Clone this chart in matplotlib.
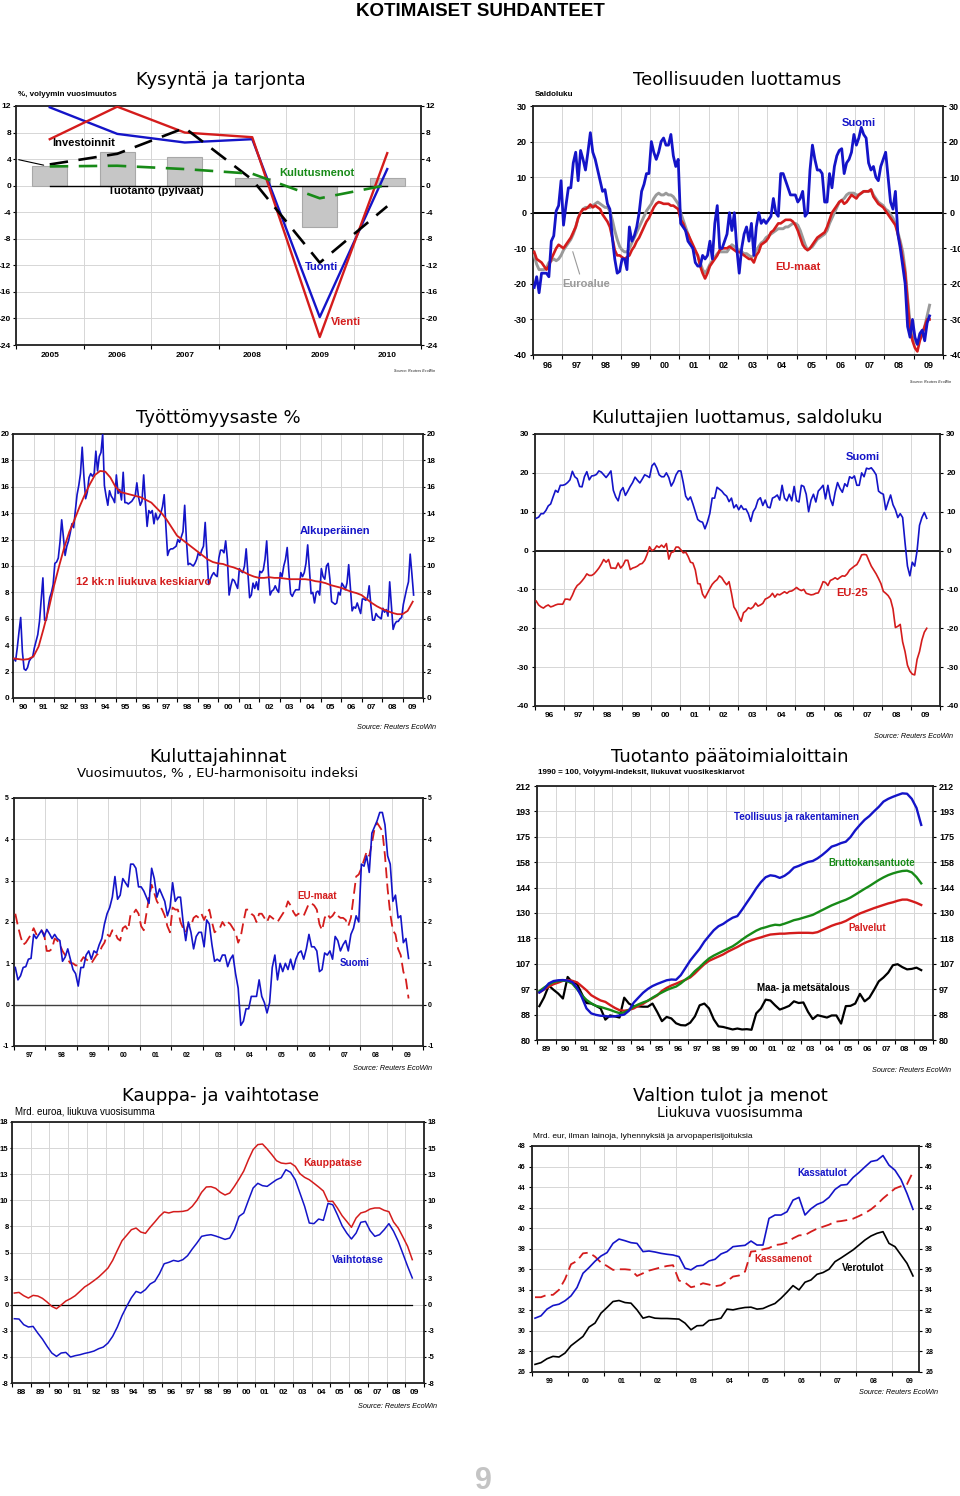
import numpy as np
import matplotlib
matplotlib.use('Agg')
import matplotlib.pyplot as plt
from matplotlib.ticker import FixedLocator, FixedFormatter, NullFormatter, NullLocator

plt.rcParams['font.family'] = ['Liberation Sans', 'DejaVu Sans']
plt.rcParams['font.weight'] = 'bold'

W, H = 960, 1496
BLUE = '#1414c8'
RED = '#d41c1c'
GREEN = '#178a17'
GRAY = '#9a9a9a'
GRID = '#d6d6d6'

# ---------------- data ----------------
# Kysyntä ja tarjonta
p1_years = [2005, 2006, 2007, 2008, 2009, 2010]
p1_tuotanto = [2.9, 5.0, 4.3, 1.2, -6.3, 1.1]
p1_investoinnit = [3.2, 4.8, 8.7, 0.9, -11.6, -3.1]
p1_vienti = [7.0, 11.9, 8.0, 7.3, -22.8, 4.9]
p1_tuonti = [11.8, 7.8, 6.5, 7.0, -19.8, 2.5]
p1_kulutus = [2.9, 3.0, 2.5, 1.8, -1.9, 0.1]

# Teollisuuden luottamus, monthly 1996-01 .. 2009-07
p2_suomi = [
    -21, -18, -22.5, -17, -17, -17, -18, -8, -6.5, 0.5, 2, 9,
    -3.5, 2, 7, 7, 14, 17, 9, 17.5, 15, 12, 17, 22.5,
    17, 15, 12, 9, 6, 6.5, 2.5, 1, -7, -13, -17, -16.5,
    -13, -13, -16, -4, -8, -6.5, -4, 0, 6, 8, 11, 11,
    20, 17, 15, 17, 20, 21, 19, 19, 22, 16, 13, 15,
    -3, -4, -5, -8, -9, -10, -14, -15, -15, -12, -13, -12,
    -8, -13, -3, 2, -10, -10, -8, -6, 0, -5, 0, -10,
    -17, -10, -6, -4, -8, -3, -12, -4, 0, -3, -2, -3,
    -2, -1, 4, 0, -1, 11, 11, 9, 7, 5, 5, 5,
    3, 4, 6, -1, 0, 12, 19, 15, 12, 12, 11, 3,
    3, 11, 7, 13, 16, 17.5, 18, 11, 14, 15, 17, 22,
    19, 21, 24, 22, 21, 14, 12, 13, 10, 9, 13, 15,
    17, 10, 3, 1, 6, -6, -10, -15, -20, -32, -35, -30,
    -35, -37, -34, -33, -36, -31, -29]
p2_eu = [
    -11, -13, -13.5, -14, -15, -16, -15, -13, -11.5, -10, -9, -9.5,
    -10, -9, -8, -7, -5.5, -4, -1.5, 0, 1, 1, 1.5, 2.3,
    1.5, 2, 1.5, 1, -0.5, -1.5, -2.5, -4, -7, -10.5, -12, -12,
    -12.5, -13, -12.5, -12, -10.5, -9.5, -8, -7, -5.5, -4, -2.5, -1.5,
    0, 1.5, 2.5, 3, 2.8, 2.5, 2.5, 2.5, 2, 2, 1.5, 1,
    -2, -3, -5, -6, -7.5, -9, -10.5, -12, -15, -17, -18.5, -17,
    -15, -14, -13, -12, -10.5, -10, -10, -10, -9.5, -10, -10.5, -11,
    -11, -11.5, -12, -12.5, -13, -13, -14, -12, -11, -9, -8.5, -8,
    -7, -5.5, -5, -4, -3, -3, -2.5, -2, -2, -2, -2.5, -3.5,
    -5, -7, -9, -10, -10.5, -10, -9, -8, -7, -6.5, -6, -5.5,
    -4, -2, 0, 1, 2, 3, 3.5, 2.5, 3, 4, 5, 4.5,
    4, 5, 5.5, 6, 6, 6, 6.5, 4.5, 3.5, 2.5, 2, 1.5,
    0.5, -0.5, -1.5, -2.5, -3.5, -6, -9, -13, -17, -25, -33, -36,
    -38, -39, -36, -34, -32, -30, -30]
p2_euro = [
    -12, -14.5, -16, -16, -16, -15.5, -14, -13.5, -13, -13.5, -13, -12,
    -10.5, -9.5, -8.5, -7.5, -6, -4, -1.5, 0, 1, 1.5, 1.5, 1.5,
    2, 2.5, 3, 2.5, 2, 1.5, 1.5, 0.5, -2, -5, -7.5, -9.5,
    -10.5, -11, -11, -10, -8.5, -7, -5.5, -4, -2.5, -1, 0.5, 1.5,
    2.5, 4, 5, 5.5, 5, 5, 5.5, 5, 5, 4.5, 3.5, 2.5,
    0, -2, -4, -6, -8, -10, -11, -12, -14, -16, -17, -16,
    -14.5, -13.5, -12.5, -11.5, -11, -11, -11, -11, -10, -9, -9.5, -10,
    -10.5, -11, -11.5, -11.5, -12, -12.5, -12, -10.5, -9.5, -8.5, -8, -7,
    -6.5, -6, -5.5, -5, -4.5, -4.5, -4.5, -4, -4, -3.5, -3, -3,
    -3.5, -5, -7, -9, -10.5, -10, -9.5, -8.5, -7.5, -7, -6.5, -6,
    -5, -3, -1.5, 0, 1.5, 3, 3.5, 4, 5, 5.5, 5.5, 5.5,
    5, 5, 5.5, 6, 6, 6, 6.5, 5, 4, 3, 2.5, 2,
    1, 0.5, -0.5, -1.5, -3, -5.5, -8, -11, -16, -24, -31, -35,
    -36, -37, -35.5, -34, -32, -29, -26]

# Työttömyysaste, monthly 1990-01 .. 2009-07
p3_alkup = [
    3.0, 2.8, 3.8, 5.0, 6.1, 3.5, 2.2, 2.1, 2.3, 2.8, 3.0, 3.1,
    3.8, 4.3, 4.8, 5.8, 7.5, 9.1, 5.9, 5.9, 6.8, 7.6, 8.0, 8.6,
    10.2, 10.3, 10.6, 11.8, 13.5, 12.2, 10.8, 11.5, 11.9, 12.5, 13.2, 12.9,
    14.2, 15.4, 16.1, 17.0, 19.0, 16.8, 15.1, 15.6, 16.7, 17.0, 16.8, 17.0,
    18.7, 17.2, 18.3, 18.6, 20.0, 16.1, 15.3, 14.6, 15.7, 15.3, 15.1, 14.8,
    16.9, 15.5, 15.8, 15.0, 17.1, 14.8, 14.8, 14.7, 14.8, 14.9, 15.1, 15.3,
    16.3, 15.2, 14.6, 14.9, 16.9, 14.8, 13.0, 14.2, 14.0, 14.2, 13.2, 14.0,
    13.5, 13.7, 14.0, 14.5, 15.4, 13.0, 10.8, 11.2, 11.3, 11.3, 11.4, 11.5,
    12.0, 11.8, 12.2, 12.6, 14.6, 12.0, 10.1, 10.2, 10.1, 10.0, 10.2, 10.5,
    11.0, 10.8, 11.2, 11.5, 13.3, 11.0, 8.6, 9.0, 9.3, 9.5, 9.3, 9.2,
    10.6, 11.2, 11.2, 11.0, 11.9, 10.5, 7.8, 8.5, 9.0, 8.9, 8.6, 8.3,
    9.8, 9.6, 9.5, 10.0, 11.3, 9.5, 7.6, 7.8, 8.7, 8.3, 8.8, 8.2,
    9.6, 9.5, 9.7, 10.5, 11.9, 9.5, 7.8, 8.1, 8.2, 8.5, 8.2, 8.0,
    9.5, 9.2, 10.0, 10.5, 11.4, 9.5, 7.9, 7.7, 8.0, 8.2, 8.2, 8.2,
    9.5, 9.2, 9.5, 10.2, 11.6, 9.7, 7.9, 8.0, 7.2, 8.0, 8.1, 7.8,
    9.8, 9.2, 9.0, 10.0, 10.2, 9.0, 7.3, 7.2, 7.1, 7.2, 8.0, 7.8,
    8.7, 8.5, 8.2, 8.7, 10.1, 8.3, 6.6, 6.9, 6.8, 7.2, 6.8, 6.4,
    7.5, 7.5, 7.4, 7.6, 8.5, 7.0, 5.9, 5.9, 6.4, 6.2, 6.1, 6.0,
    6.8, 6.5, 6.7, 6.2, 8.8, 7.0, 5.2, 5.6, 5.8, 5.8, 6.0, 6.1,
    7.1, 7.7, 8.3, 8.8, 10.9, 9.4, 7.8]
# 12 kk liukuva keskiarvo, quarterly 1990.0 .. 2009.5
p3_ka = [
    3.0, 2.95, 2.9, 2.95, 3.15, 3.9, 5.3, 6.8, 8.5, 10.0,
    11.4, 12.6, 13.5, 14.5, 15.4, 16.2, 16.9, 17.2, 17.15, 16.7,
    16.0, 15.6, 15.5, 15.4, 15.3, 15.2, 15.0, 14.8, 14.4, 14.0,
    13.5, 12.9, 12.3, 12.0, 11.7, 11.4, 11.1, 10.8, 10.5, 10.3,
    10.2, 10.15, 10.0, 9.9, 9.75, 9.55, 9.35, 9.2, 9.1, 9.1,
    9.15, 9.1, 9.1, 9.05, 9.0, 9.0, 9.0, 9.0, 8.95, 8.85,
    8.8, 8.7, 8.55, 8.45, 8.35, 8.2, 8.05, 7.95, 7.8, 7.5,
    7.2, 6.95, 6.75, 6.6, 6.45, 6.35, 6.35, 6.6, 7.3]

# Kuluttajien luottamus, monthly 1996-01 .. 2009-07
p4_suomi = [
    8.3, 8.6, 9.5, 9.5, 10.3, 11.5, 12, 13.8, 15.5, 15, 16.8, 16.8,
    17, 17.5, 18.2, 20.4, 19, 18.5, 16.5, 16.4, 19, 20.3, 18.2, 19.2,
    19.3, 19.6, 20.5, 20.2, 19.5, 18.8, 19.6, 20.5, 15.5, 13.8, 12.8, 15.3,
    16.2, 14.2, 15.3, 16.5, 17.5, 18.9, 18.1, 17.4, 18.4, 19.5, 19.2, 18.8,
    21.8, 22.5, 21.3, 19.5, 19, 19, 20, 18.8, 16.6, 17.7, 19.5, 20.5,
    20.5, 17.5, 14, 13, 13.8, 12, 10, 8, 7.5, 7.3, 5.6, 7.3,
    9.5, 13.5, 13.5, 16.3, 15.8, 15.3, 14.5, 14, 12.6, 13.5, 11, 11.8,
    10.5, 11.6, 10.6, 10.7, 9.5, 7.5, 10, 11, 13, 13.6, 11.6, 13,
    11.2, 11, 13.5, 13.8, 14.3, 13, 16.8, 13.5, 12.8, 14.5, 12.8, 16.5,
    12.8, 12.5, 16.8, 16.5, 14.5, 10, 13, 14.5, 12.5, 15.3, 16, 16.8,
    13.3, 16.8, 13.3, 11.6, 15, 17.5, 16, 15, 17.2, 16.5, 19, 18.6,
    19.2, 16.8, 16.8, 20, 19, 21.2, 21, 21.3, 20.5, 19.5, 15.3, 14.8,
    14.5, 10.5, 12.5, 14.3, 11.8, 10.5, 8.5, 9.5, 8.5, 2, -4, -6.5,
    -3, -4, 0, 6.5, 8.5, 9.8, 8.3]
p4_eu25 = [
    -13, -14, -14.5, -14.8, -14.3, -14, -14.5, -14.3, -14, -13.8, -13.8, -13.8,
    -12.5, -12.5, -12.7, -11.5, -10, -9, -8.5, -7.8, -7, -6, -6.4, -6.4,
    -6, -5.3, -4.5, -3.5, -2.3, -3, -2.3, -4.5, -4.5, -4.6, -3.2, -4.5,
    -3.8, -2.5, -2.5, -4.9, -4.5, -4.3, -4, -3.5, -3.3, -2.5, -1, 1,
    0, 0.3, 1.2, 0.8, 1.4, 0.8, 1.8, -2.2, -0.5, -0.3, 0.9, 0.9,
    0.2, -0.6, -0.4, -1.5, -3, -3.2, -5, -8.5, -8.6, -11.2, -12.2, -11,
    -9.8, -8.7, -8, -7.5, -6.5, -7, -8, -8.8, -8, -11, -14.5, -15.5,
    -17, -18.2, -16, -15.5, -14.7, -15, -14.5, -13.5, -14.3, -14, -13.6, -12.5,
    -12.2, -11.8, -11, -12, -11.2, -11.4, -11, -10.6, -11, -10.5, -10.4, -10,
    -9.5, -10, -10.3, -10, -11, -11.2, -11.4, -11.3, -11, -10.9, -9.6, -8,
    -8.2, -9, -7.7, -7.4, -7, -7.4, -6.9, -6.5, -6.6, -6, -5, -4.5,
    -4, -3.6, -2.5, -1.1, -1, -1.1, -2.6, -4, -5, -6, -7.2, -8.5,
    -10.5, -11, -11.6, -12.6, -15, -19.8, -19.5, -19, -23.5, -26, -29.5, -31,
    -31.8, -32, -28, -26, -23, -21, -20]

# Kuluttajahinnat, monthly 1997-01 .. 2009-07
p5_suomi = [
    0.9, 0.6, 0.7, 0.9, 0.92, 1.1, 1.12, 1.7, 1.6, 1.7, 1.8, 1.65,
    1.82, 1.72, 1.6, 1.7, 1.6, 1.55, 1.05, 1.15, 1.35, 1.1, 0.85, 0.75,
    0.45, 0.9, 0.9, 1.2, 1.3, 1.1, 1.3, 1.25, 1.45, 1.6, 1.95, 2.2,
    2.35, 2.6, 3.1, 2.55, 2.65, 3.05, 2.95, 2.85, 3.4, 3.4, 3.3, 2.85,
    2.85, 2.75, 2.6, 2.45, 3.3, 3.05, 2.6, 2.8, 2.65, 2.5, 2.15, 2.35,
    2.95, 2.5, 2.6, 2.6, 2.0, 1.55, 2.0, 1.75, 1.35, 1.65, 1.75, 1.75,
    1.4, 2.05, 1.95, 1.45, 1.05, 1.1, 1.05, 1.2, 1.2, 0.92, 1.1, 1.2,
    0.75, 0.4, -0.5, -0.4, -0.1, -0.1, 0.2, 0.2, 0.2, 0.6, 0.2, 0.05,
    -0.2, 0.05, 0.9, 1.2, 0.6, 1.0, 0.8, 1.0, 0.85, 1.1, 0.85, 1.1,
    1.25, 1.3, 1.1, 1.35, 1.7, 1.4, 1.4, 1.3, 0.8, 0.85, 1.25, 1.2,
    1.3, 1.1, 1.65, 1.55, 1.3, 1.45, 1.55, 1.3, 1.7, 1.85, 2.15, 2.0,
    3.4, 3.35, 3.6, 3.2, 4.15, 4.3, 4.45, 4.65, 4.65, 4.35, 3.6, 3.4,
    2.5, 2.65, 2.1, 2.15, 1.5, 1.6, 1.12]
p5_eu = [
    2.2, 1.9, 1.65, 1.45, 1.5, 1.6, 1.7, 1.85, 1.7, 1.75, 1.8, 1.7,
    1.3, 1.3, 1.35, 1.6, 1.55, 1.45, 1.3, 1.2, 1.1, 1.0, 1.0, 0.95,
    0.95, 1.05, 1.15, 1.1, 1.05, 1.0, 1.1, 1.2, 1.25, 1.4, 1.5, 1.7,
    1.65, 1.8, 1.75, 1.6, 1.55, 1.85, 1.9, 1.8, 2.2, 2.2, 2.3, 2.2,
    1.9, 1.8, 2.2, 2.6, 2.9, 2.7, 2.5, 2.4, 2.3, 2.15, 1.9, 1.75,
    2.35, 2.3, 2.3, 2.0, 1.85, 1.75, 1.95, 1.9, 2.1, 2.15, 2.1, 2.2,
    2.05, 2.2, 2.3, 2.0, 1.75, 1.8, 1.85, 2.0, 1.9, 2.0, 1.95, 1.85,
    1.75, 1.5, 1.65, 2.0, 2.3, 2.3, 2.2, 2.15, 2.0, 2.2, 2.2, 2.1,
    2.0, 2.15, 2.1, 2.05, 2.0, 2.1, 2.2, 2.3, 2.5, 2.4, 2.25, 2.15,
    2.2, 2.2, 2.15, 2.3, 2.45, 2.45, 2.4, 2.3, 1.95, 1.8, 2.1, 2.2,
    2.1, 2.15, 2.25, 2.15, 2.1, 2.1, 2.05, 1.9, 2.1, 2.6, 3.1, 3.15,
    3.3, 3.5, 3.7, 3.6, 3.9, 4.25, 4.4, 4.3, 4.2, 3.6, 2.8, 2.2,
    1.8, 1.7, 1.35, 1.2, 0.8, 0.6, 0.15]

# Tuotanto päätoimialoittain, quarterly from 1989 Q1
p6_ticklabels = [80, 88, 97, 107, 118, 130, 144, 158, 175, 193, 212]
p6_teoll = [
    96.0, 97.2, 99.4, 100.3, 100.6, 100.7, 100.5, 99.9, 97.7, 94.3,
    90.3, 88.6, 88.1, 87.8, 87.7, 87.5, 87.6, 87.9, 88.2, 89.5,
    92.3, 94.1, 95.9, 97.3, 98.4, 99.2, 99.9, 100.6, 100.9, 100.8,
    102.6, 105.5, 108.5, 111.0, 113.5, 116.7, 119.3, 121.9, 123.8, 124.9,
    126.5, 127.9, 128.7, 131.9, 135.5, 139.1, 143.1, 146.6, 149.4, 150.5,
    150.1, 149.0, 150.2, 152.2, 155.0, 156.0, 157.3, 158.4, 159.0, 160.6,
    162.7, 165.2, 168.0, 169.0, 170.3, 171.2, 174.3, 178.8, 182.6, 186.2,
    188.9, 192.4, 195.7, 199.7, 201.8, 203.4, 204.8, 206.1, 205.8, 201.8,
    194.9, 182.6]
p6_bkt = [
    96.5, 97.8, 99.0, 99.9, 100.3, 100.5, 100.2, 99.3, 97.2, 95.0,
    93.3, 92.1, 91.2, 90.8, 90.3, 89.8, 89.2, 88.7, 88.9, 89.8,
    90.9, 91.7, 92.4, 93.0, 94.1, 95.1, 96.0, 96.9, 97.6, 98.2,
    99.4, 100.9, 102.2, 104.2, 105.8, 107.7, 109.4, 110.6, 111.6, 112.6,
    113.6, 114.6, 116.0, 117.6, 119.1, 120.4, 121.7, 122.7, 123.3, 124.0,
    124.5, 124.3, 125.0, 125.8, 126.7, 127.2, 127.9, 128.6, 129.3, 130.5,
    131.7, 132.9, 134.1, 135.1, 136.1, 137.0, 138.2, 139.7, 141.3, 142.9,
    144.4, 146.1, 147.8, 149.3, 150.6, 151.6, 152.4, 153.0, 153.2, 152.2,
    149.5, 145.9]
p6_palvelut = [
    96.0, 97.1, 98.2, 99.1, 99.7, 100.4, 100.7, 100.4, 99.8, 98.3,
    96.8, 95.0, 94.0, 93.1, 92.6, 91.5, 90.5, 89.7, 89.5, 89.8,
    90.3, 91.2, 91.9, 93.0, 93.9, 94.9, 96.6, 97.7, 98.6, 99.3,
    100.1, 100.8, 101.7, 103.3, 105.2, 107.0, 108.4, 109.3, 110.2, 111.1,
    112.3, 113.3, 114.3, 115.5, 116.5, 117.3, 118.0, 118.6, 119.3, 119.9,
    120.1, 120.3, 120.3, 120.5, 120.6, 120.7, 120.7, 120.7, 120.6, 121.0,
    122.0, 123.0, 124.0, 124.8, 125.4, 126.3, 127.6, 128.8, 130.0, 130.9,
    131.8, 132.7, 133.5, 134.3, 135.1, 135.7, 136.5, 137.1, 137.1, 136.3,
    135.4, 134.3]
p6_maa = [
    91.1, 94.2, 98.6, 97.0, 95.6, 93.8, 101.9, 99.8, 99.2, 95.5,
    92.2, 92.0, 91.2, 90.3, 86.5, 87.9, 87.6, 87.2, 94.1, 92.0,
    91.1, 91.0, 90.9, 90.9, 92.0, 89.1, 86.0, 87.4, 86.9, 85.3,
    84.7, 84.6, 85.5, 87.6, 91.4, 92.0, 90.3, 86.6, 84.3, 84.1,
    83.7, 83.3, 83.6, 83.3, 83.4, 83.2, 88.6, 90.3, 93.4, 93.1,
    91.4, 89.9, 90.5, 91.2, 92.8, 92.2, 92.4, 89.1, 86.7, 88.0,
    87.6, 87.2, 87.9, 87.9, 85.2, 91.1, 91.2, 92.0, 95.5, 92.8,
    94.1, 97.0, 100.2, 101.7, 103.6, 106.6, 107.0, 105.8, 104.9, 105.1,
    105.6, 104.6]

# Kauppa- ja vaihtotase, quarterly from 1988 Q1
p7_ticklabels = [-8, -5, -3, 0, 3, 5, 8, 10, 13, 15, 18]
p7_kauppa = [
    1.14, 1.2, 0.88, 0.65, 0.91, 0.85, 0.62, 0.26, -0.16, -0.39,
    -0.03, 0.36, 0.59, 0.88, 1.30, 1.73, 2.02, 2.35, 2.70, 3.13,
    3.58, 4.33, 5.31, 6.25, 6.78, 7.33, 7.49, 7.10, 6.97, 7.56,
    8.08, 8.63, 9.06, 8.96, 9.09, 9.09, 9.12, 9.22, 9.61, 10.2,
    10.98, 11.5, 11.53, 11.37, 10.98, 10.72, 10.91, 11.56, 12.28, 13.06,
    14.17, 15.15, 15.64, 15.7, 15.21, 14.66, 14.07, 13.84, 13.78, 13.84,
    13.52, 12.8, 12.44, 12.21, 11.86, 11.5, 11.11, 10.1, 10.1, 9.45,
    8.7, 8.14, 7.56, 8.47, 8.96, 9.09, 9.35, 9.45, 9.45, 9.22,
    9.09, 8.08, 7.49, 6.61, 5.7, 4.4]
p7_vaihto = [
    -1.37, -1.40, -1.95, -2.18, -2.12, -2.77, -3.36, -4.07, -4.72, -5.05,
    -4.72, -4.66, -5.11, -4.98, -4.89, -4.76, -4.66, -4.53, -4.3, -4.14,
    -3.75, -3.09, -2.18, -1.07, -0.16, 0.68, 1.30, 1.14, 1.47, 2.02,
    2.28, 3.03, 4.0, 4.14, 4.33, 4.23, 4.4, 4.79, 5.44, 6.03,
    6.68, 6.78, 6.84, 6.71, 6.55, 6.38, 6.51, 7.33, 8.63, 8.96,
    10.2, 11.4, 11.86, 11.63, 11.56, 11.89, 12.21, 12.41, 13.19, 12.93,
    12.21, 10.91, 9.61, 7.98, 7.92, 8.37, 8.24, 9.9, 9.77, 8.79,
    7.72, 7.0, 6.42, 7.0, 8.05, 8.14, 7.23, 6.68, 6.84, 7.33,
    7.92, 7.17, 6.19, 4.98, 3.75, 2.61]

# Valtion tulot ja menot, every second month from 1999-01
p8_kassatulot = [
    31.24, 31.47, 32.12, 32.47, 32.6, 32.93, 33.41, 34.22, 35.61, 36.16,
    36.78, 37.29, 37.62, 38.52, 38.94, 38.78, 38.59, 38.52, 37.72, 37.78,
    37.68, 37.55, 37.46, 37.39, 37.23, 36.1, 35.94, 36.32, 36.39, 36.81,
    36.97, 37.49, 37.72, 38.2, 38.27, 38.33, 38.75, 38.36, 38.36, 40.95,
    41.28, 41.28, 41.6, 42.73, 43.0, 41.28, 41.89, 42.31, 42.54, 43.0,
    43.77, 44.19, 44.25, 44.93, 45.42, 45.97, 46.49, 46.61, 47.07, 46.13,
    45.64, 44.74, 43.38, 41.83]
p8_kassamenot = [
    33.28, 33.28, 33.51, 33.51, 34.0, 35.03, 36.49, 36.81, 37.55, 37.62,
    37.23, 36.65, 36.32, 35.94, 36.0, 36.0, 35.94, 35.35, 35.61, 35.87,
    36.03, 36.19, 36.32, 36.4, 34.9, 34.71, 34.25, 34.38, 34.64, 34.51,
    34.35, 34.45, 34.83, 35.29, 35.39, 35.77, 37.72, 37.78, 37.94, 38.07,
    38.36, 38.43, 38.59, 39.01, 39.3, 39.33, 39.66, 39.95, 40.14, 40.34,
    40.63, 40.69, 40.79, 40.92, 41.18, 41.47, 41.83, 42.31, 42.89, 43.38,
    43.86, 44.09, 44.28, 45.48]
p8_verotulot = [
    26.74, 26.91, 27.29, 27.52, 27.46, 27.84, 28.56, 29.01, 29.46, 30.37,
    30.76, 31.73, 32.28, 32.86, 32.96, 32.76, 32.70, 32.05, 31.24, 31.4,
    31.24, 31.21, 31.21, 31.18, 31.15, 30.76, 30.11, 30.5, 30.53, 31.02,
    31.11, 31.24, 32.12, 32.05, 32.18, 32.28, 32.31, 32.12, 32.18, 32.44,
    32.67, 33.18, 33.77, 34.41, 33.99, 34.74, 34.96, 35.51, 35.68, 36.0,
    36.74, 37.1, 37.49, 37.88, 38.36, 38.85, 39.24, 39.5, 39.66, 38.52,
    38.2, 37.39, 36.58, 35.35]

# time axes
t2 = 1996 + (np.arange(len(p2_suomi)) + 0.5) / 12
t3 = 1990 + (np.arange(len(p3_alkup)) + 0.5) / 12
t3q = 1990 + 0.25 * np.arange(len(p3_ka))
t4 = 1996 + (np.arange(len(p4_suomi)) + 0.5) / 12
t5 = 1997 + (np.arange(len(p5_suomi)) + 0.5) / 12
t6 = 1989.125 + 0.25 * np.arange(len(p6_teoll))
t7 = 1988.125 + 0.25 * np.arange(len(p7_kauppa))
t8 = 1999 + 1 / 12 + np.arange(len(p8_kassatulot)) / 6

# ---------------- helpers ----------------
fig = plt.figure(figsize=(W / 100, H / 100), dpi=100)


def px_axes(l, t, r, b):
    ax = fig.add_axes([l / W, 1 - b / H, (r - l) / W, (b - t) / H])
    for s in ax.spines.values():
        s.set_linewidth(1.3)
        s.set_color('#202020')
    ax.set_axisbelow(True)
    ax.grid(True, which='major', color=GRID, lw=0.7)
    return ax


def ftext(x, y, s, **kw):
    kw.setdefault('ha', 'center')
    kw.setdefault('va', 'center')
    fig.text(x / W, 1 - y / H, s, **kw)


def year_axis(ax, y0, y1, fs, xmax=None):
    ax.set_xlim(y0, y1 if xmax is None else xmax)
    ax.xaxis.set_major_locator(FixedLocator(np.arange(y0, y1 + 1)))
    ax.xaxis.set_major_formatter(NullFormatter())
    centers = np.arange(y0, y1) + 0.5
    ax.xaxis.set_minor_locator(FixedLocator(centers))
    ax.xaxis.set_minor_formatter(FixedFormatter(['%02d' % (int(c) % 100) for c in centers]))
    ax.tick_params(axis='x', which='major', length=3, width=0.8, direction='out')
    ax.tick_params(axis='x', which='minor', length=0, labelsize=fs, pad=4)


def y_axis(ax, ticks, labels, fs, tl=2.5, pad=2):
    ax.set_yticks(ticks)
    ax.set_yticklabels(labels)
    ax.set_ylim(ticks[0], ticks[-1])
    ax.tick_params(axis='y', which='major', left=True, right=True, labelleft=True,
                   labelright=True, labelsize=fs, length=tl, width=0.8, pad=pad)


TITLE = dict(fontsize=13, fontweight='normal', family=['DejaVu Sans'])
SRC = dict(fontsize=5.2, style='italic', fontweight='normal', ha='right')

ftext(480, 11, 'KOTIMAISET SUHDANTEET', fontsize=13.5)

# ---------------- 1: Kysyntä ja tarjonta ----------------
ax = px_axes(16, 106, 421, 345)
ax.set_xlim(2004.5, 2010.5)
ax.xaxis.set_major_locator(FixedLocator(np.arange(2004.5, 2011, 1.0)))
ax.xaxis.set_major_formatter(NullFormatter())
ax.xaxis.set_minor_locator(FixedLocator(p1_years))
ax.xaxis.set_minor_formatter(FixedFormatter([str(y) for y in p1_years]))
ax.tick_params(axis='x', which='major', length=3, width=0.8)
ax.tick_params(axis='x', which='minor', length=0, labelsize=6, pad=5)
y_axis(ax, list(range(-24, 13, 4)), [str(v) for v in range(-24, 13, 4)], 6, tl=2, pad=1.5)
ax.bar(p1_years, p1_tuotanto, width=0.52, color='#c6c6c6', edgecolor='#a8a8a8', lw=0.8, zorder=2)
ax.plot([p1_years[0], p1_years[-1]], [0, 0], color='black', lw=1.0, zorder=3)
ax.plot(p1_years, p1_tuonti, color=BLUE, lw=1.7, zorder=4)
ax.plot(p1_years, p1_vienti, color=RED, lw=1.7, zorder=5)
ax.plot(p1_years, p1_investoinnit, color='black', lw=1.9, dashes=(7, 4), zorder=6)
ax.plot(p1_years, p1_kulutus, color=GREEN, lw=1.9, dashes=(7, 4), zorder=6)
ax.annotate('', xy=(2004.95, 3.0), xytext=(2004.5, 4.0),
            arrowprops=dict(arrowstyle='-', lw=0.8, color='black'))
lab = dict(fontsize=8, fontweight='bold', va='center')
ax.text(2005.03, 6.4, 'Investoinnit', color='black', **lab)
ax.text(2008.4, 1.9, 'Kulutusmenot', color=GREEN, **lab)
ax.text(2005.86, -0.8, 'Tuotanto (pylväät)', color='black', **lab)
ax.text(2008.78, -12.2, 'Tuonti', color=BLUE, **lab)
ax.text(2009.17, -20.5, 'Vienti', color=RED, **lab)
ftext(221, 80, 'Kysyntä ja tarjonta', **TITLE)
ftext(18, 95, '%, volyymin vuosimuutos', fontsize=5.8, ha='left')
ftext(435, 371, 'Source: Reuters EcoWin', fontsize=2.5, style='italic', ha='right', color='#555555')

# ---------------- 2: Teollisuuden luottamus ----------------
ax = px_axes(533, 106, 943, 355)
year_axis(ax, 1996, 2010, 6.5)
y_axis(ax, list(range(-40, 31, 10)), [str(v) for v in range(-40, 31, 10)], 6.5)
ax.axhline(0, color='black', lw=1.4, zorder=2)
ax.plot(t2, p2_euro, color=GRAY, lw=2.1, zorder=3)
ax.plot(t2, p2_eu, color=RED, lw=1.9, zorder=4)
ax.plot(t2, p2_suomi, color=BLUE, lw=2.0, zorder=5)
ax.annotate('', xy=(1997.33, -10.2), xytext=(1997.62, -18.0),
            arrowprops=dict(arrowstyle='-', lw=0.8, color=GRAY))
ax.text(2007.13, 25.2, 'Suomi', color=BLUE, ha='center', **lab)
ax.text(2005.05, -15.3, 'EU-maat', color=RED, ha='center', **lab)
ax.text(1997.81, -20.0, 'Euroalue', color=GRAY, ha='center', **lab)
ftext(737, 80, 'Teollisuuden luottamus', **TITLE)
ftext(535, 94, 'Saldoluku', fontsize=5.8, ha='left')
ftext(951, 382, 'Source: Reuters EcoWin', fontsize=2.5, style='italic', ha='right', color='#555555')

# ---------------- 3: Työttömyysaste ----------------
ax = px_axes(13, 434, 423, 698)
year_axis(ax, 1990, 2010, 6)
y_axis(ax, list(range(0, 21, 2)), [str(v) for v in range(0, 21, 2)], 5.8, tl=1.5, pad=1)
ax.plot(t3, p3_alkup, color=BLUE, lw=1.2, zorder=3)
ax.plot(t3q, p3_ka, color=RED, lw=1.3, zorder=4)
ax.text(2004.0, 12.65, 'Alkuperäinen', color=BLUE, **lab)
ax.text(1993.07, 8.8, '12 kk:n liukuva keskiarvo', color=RED, **lab)
ftext(218, 418, 'Työttömyysaste %', **TITLE)
ftext(436, 728, 'Source: Reuters EcoWin', **SRC)

# ---------------- 4: Kuluttajien luottamus ----------------
ax = px_axes(535, 434, 940, 706)
year_axis(ax, 1996, 2010, 6)
y_axis(ax, list(range(-40, 31, 10)), [str(v) for v in range(-40, 31, 10)], 6)
ax.axhline(0, color='#202020', lw=1.4, zorder=2)
ax.plot(t4, p4_suomi, color=BLUE, lw=1.2, zorder=3)
ax.plot(t4, p4_eu25, color=RED, lw=1.2, zorder=3)
ax.text(2007.34, 24.1, 'Suomi', color=BLUE, ha='center', **lab)
ax.text(2006.96, -10.9, 'EU-25', color=RED, ha='center', **lab)
ftext(737, 418, 'Kuluttajien luottamus, saldoluku', **TITLE)
ftext(953, 736, 'Source: Reuters EcoWin', **SRC)

# ---------------- 5: Kuluttajahinnat ----------------
ax = px_axes(14, 798, 423, 1046)
year_axis(ax, 1997, 2010, 5)
y_axis(ax, list(range(-1, 6)), [str(v) for v in range(-1, 6)], 5, tl=2, pad=1.5)
ax.axhline(0, color='#404040', lw=1.0, zorder=2)
ax.plot(t5, p5_eu, color=RED, lw=1.3, dashes=(6, 3), zorder=3)
ax.plot(t5, p5_suomi, color=BLUE, lw=1.2, zorder=4)
lab7 = dict(fontsize=7, fontweight='bold', va='center', ha='center')
ax.text(2006.63, 2.63, 'EU-maat', color=RED, **lab7)
ax.text(2007.84, 1.0, 'Suomi', color=BLUE, **lab7)
ftext(218, 757, 'Kuluttajahinnat', **TITLE)
ftext(218, 774, 'Vuosimuutos, % , EU-harmonisoitu indeksi', fontsize=9.5,
      fontweight='normal', family=['DejaVu Sans'])
ftext(432, 1068, 'Source: Reuters EcoWin', **SRC)

# ---------------- 6: Tuotanto päätoimialoittain ----------------
ax = px_axes(537, 786, 933, 1040)
year_axis(ax, 1989, 2010, 6)
ax.set_yscale('log')
p6_ticks = np.geomspace(80, 212, len(p6_ticklabels))
ax.yaxis.set_major_locator(FixedLocator(p6_ticks))
ax.yaxis.set_major_formatter(FixedFormatter([str(v) for v in p6_ticklabels]))
ax.yaxis.set_minor_locator(NullLocator())
ax.set_ylim(80, 212)
ax.tick_params(axis='y', which='major', left=True, right=True, labelleft=True,
               labelright=True, labelsize=6.5, length=2.5, width=0.8, pad=2)
ax.plot(t6, p6_maa, color='black', lw=1.6, zorder=3)
ax.plot(t6, p6_palvelut, color=RED, lw=1.7, zorder=4)
ax.plot(t6, p6_bkt, color=GREEN, lw=1.7, zorder=5)
ax.plot(t6, p6_teoll, color=BLUE, lw=1.7, zorder=6)
ax.text(1999.45, 188.2, 'Teollisuus ja rakentaminen', color=BLUE, fontsize=7, fontweight='bold', va='center')
ax.text(2004.43, 157.8, 'Bruttokansantuote', color=GREEN, fontsize=7, fontweight='bold', va='center')
ax.text(2006.5, 123.0, 'Palvelut', color=RED, ha='center', fontsize=7, fontweight='bold', va='center')
ax.text(2003.1, 97.7, 'Maa- ja metsätalous', color='black', ha='center', fontsize=7, fontweight='bold', va='center')
ftext(730, 757, 'Tuotanto päätoimialoittain', **TITLE)
ftext(538, 773, '1990 = 100, Volyymi-indeksit, liukuvat vuosikeskiarvot', fontsize=5.8, ha='left')
ftext(951, 1071, 'Source: Reuters EcoWin', **SRC)

# ---------------- 7: Kauppa- ja vaihtotase ----------------
ax = px_axes(12, 1122, 424, 1383)
year_axis(ax, 1988, 2010, 6)
p7_ticks = 2.55 * np.arange(-3, 8)
y_axis(ax, list(p7_ticks), [str(v) for v in p7_ticklabels], 5.5, tl=1.5, pad=1)
ax.plot([t7[0] - 0.125, t7[-1]], [0, 0], color='black', lw=0.9, zorder=2)
ax.plot(t7, p7_kauppa, color=RED, lw=1.1, zorder=3)
ax.plot(t7, p7_vaihto, color=BLUE, lw=1.1, zorder=4)
ax.text(2003.54, 13.84, 'Kauppatase', color=RED, fontsize=7.5, fontweight='bold', va='center')
ax.text(2005.09, 4.37, 'Vaihtotase', color=BLUE, fontsize=7.5, fontweight='bold', va='center')
ftext(221, 1096, 'Kauppa- ja vaihtotase', **TITLE)
ftext(15, 1111, 'Mrd. euroa, liukuva vuosisumma', fontsize=7, fontweight='normal', ha='left')
ftext(437, 1407, 'Source: Reuters EcoWin', **SRC)

# ---------------- 8: Valtion tulot ja menot ----------------
ax = px_axes(532, 1146, 919, 1372)
year_axis(ax, 1999, 2010, 5, xmax=2009.75)
y_axis(ax, list(range(26, 49, 2)), [str(v) for v in range(26, 49, 2)], 5)
ax.plot(t8, p8_verotulot, color='black', lw=1.2, zorder=3)
ax.plot(t8, p8_kassamenot, color=RED, lw=1.3, dashes=(6, 3), zorder=4)
ax.plot(t8, p8_kassatulot, color=BLUE, lw=1.2, zorder=5)
ax.text(2006.36, 45.37, 'Kassatulot', color=BLUE, fontsize=7, fontweight='bold', va='center')
ax.text(2005.19, 37.0, 'Kassamenot', color=RED, fontsize=7, fontweight='bold', va='center')
ax.text(2007.61, 36.12, 'Verotulot', color='black', fontsize=7, fontweight='bold', va='center')
ftext(730, 1096, 'Valtion tulot ja menot', **TITLE)
ftext(730, 1113, 'Liukuva vuosisumma', fontsize=10, fontweight='normal', family=['DejaVu Sans'])
ftext(533, 1137, 'Mrd. eur, ilman lainoja, lyhennyksiä ja arvopaperisijoituksia', fontsize=6,
      fontweight='normal', ha='left')
ftext(938, 1393, 'Source: Reuters EcoWin', **SRC)

ftext(483, 1481, '9', fontsize=22, color='#c4c4c4')

fig.savefig('out.png', dpi=100)
